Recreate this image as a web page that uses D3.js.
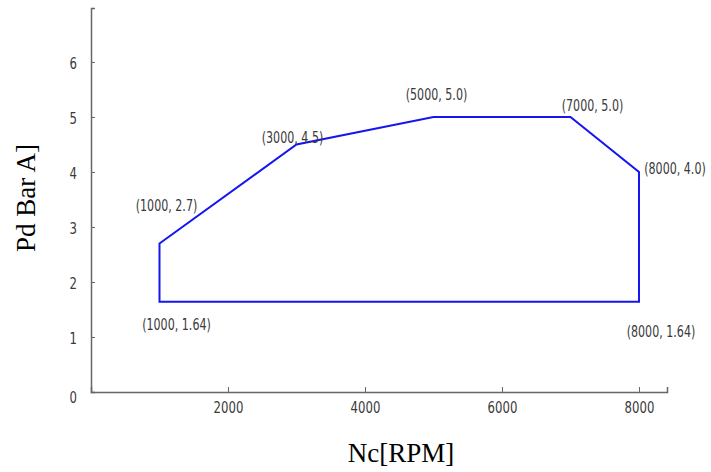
<!DOCTYPE html>
<html>
<head>
<meta charset="utf-8">
<script src="https://cdn.jsdelivr.net/npm/d3@7"></script>
<style>
  body { margin: 0; background: #fff; }
  .tick text, .pt-label { font-family: "DejaVu Sans", sans-serif; fill: #3a3a3a; }
  .axis-title { font-family: "Liberation Serif", "Times New Roman", serif; font-size: 27px; fill: #000; }
</style>
</head>
<body>
<script>
// operating envelope corners, in drawing order
const rpm = [1000, 3000, 5000, 7000, 8000, 8000, 1000];
const pd = [2.7, 4.5, 5.0, 5.0, 4.0, 1.64, 1.64];
const pointLabels = ["(1000, 2.7)", "(3000, 4.5)", "(5000, 5.0)", "(7000, 5.0)", "(8000, 4.0)", "(8000, 1.64)", "(1000, 1.64)"];
const xTicks = [2000, 4000, 6000, 8000];
const yTicks = [0, 1, 2, 3, 4, 5, 6];

// label nudges relative to each corner (px)
const nudge = [[7, -38], [-4, -7], [3, -22], [22, -11], [36, -3], [22, 30], [17, 23]];

const width = 711, height = 472;
const x0 = 91, y0 = 392;

const x = d3.scaleLinear().domain([0, 8409]).range([x0, 667]);
const y = d3.scaleLinear().domain([0, 6.98]).range([y0, 8]);

const svg = d3.select("body").append("svg")
  .attr("width", width)
  .attr("height", height);

// squeeze text sideways to mimic the narrow face of the original
function narrow(sel, k) {
  sel.each(function () {
    const w = this.getComputedTextLength();
    d3.select(this).attr("textLength", w * k).attr("lengthAdjust", "spacingAndGlyphs");
  });
}

// x axis
const gx = svg.append("g")
  .attr("transform", `translate(0,${y0})`)
  .call(d3.axisBottom(x).tickValues(xTicks).tickSize(-5).tickPadding(10).tickFormat(d3.format("d")));
gx.select(".domain").attr("stroke", "#666").attr("stroke-width", 1.5);
gx.selectAll(".tick line").attr("stroke", "#666");
gx.selectAll(".tick text").style("font-size", "15px").call(narrow, 0.78);

// y axis
const gy = svg.append("g")
  .attr("transform", `translate(${x0},0)`)
  .call(d3.axisLeft(y).tickValues(yTicks).tickSize(-4).tickPadding(14).tickFormat(d3.format("d")));
gy.select(".domain").attr("stroke", "#666").attr("stroke-width", 1.5);
gy.selectAll(".tick line").attr("stroke", "#666");
gy.selectAll(".tick text").style("font-size", "15px").attr("dy", "0.45em").call(narrow, 0.78);
gy.selectAll(".tick").filter(d => d === 0).select("text").attr("dy", "0.7em");

// envelope
const line = d3.line()
  .x((d, i) => x(rpm[i]))
  .y((d, i) => y(pd[i]))
  .curve(d3.curveLinearClosed);

svg.append("path")
  .datum(rpm)
  .attr("d", line)
  .attr("fill", "none")
  .attr("stroke", "#1515f0")
  .attr("stroke-width", 2);

// corner labels, squeezed with a transform so their box stays honest
svg.selectAll(".pt-label")
  .data(pointLabels)
  .enter()
  .append("text")
  .attr("class", "pt-label")
  .attr("transform", (d, i) =>
    `translate(${x(rpm[i]) + nudge[i][0]},${y(pd[i]) + nudge[i][1]}) scale(0.74,1)`)
  .attr("text-anchor", "middle")
  .attr("dy", "0.35em")
  .style("font-size", "15px")
  .text(d => d);

// axis titles
svg.append("text")
  .attr("class", "axis-title")
  .attr("x", 401)
  .attr("y", 462)
  .attr("text-anchor", "middle")
  .text("Nc[RPM]");

svg.append("text")
  .attr("class", "axis-title")
  .attr("transform", "translate(35,198) rotate(-90)")
  .attr("text-anchor", "middle")
  .text("Pd Bar A]");
</script>
</body>
</html>
